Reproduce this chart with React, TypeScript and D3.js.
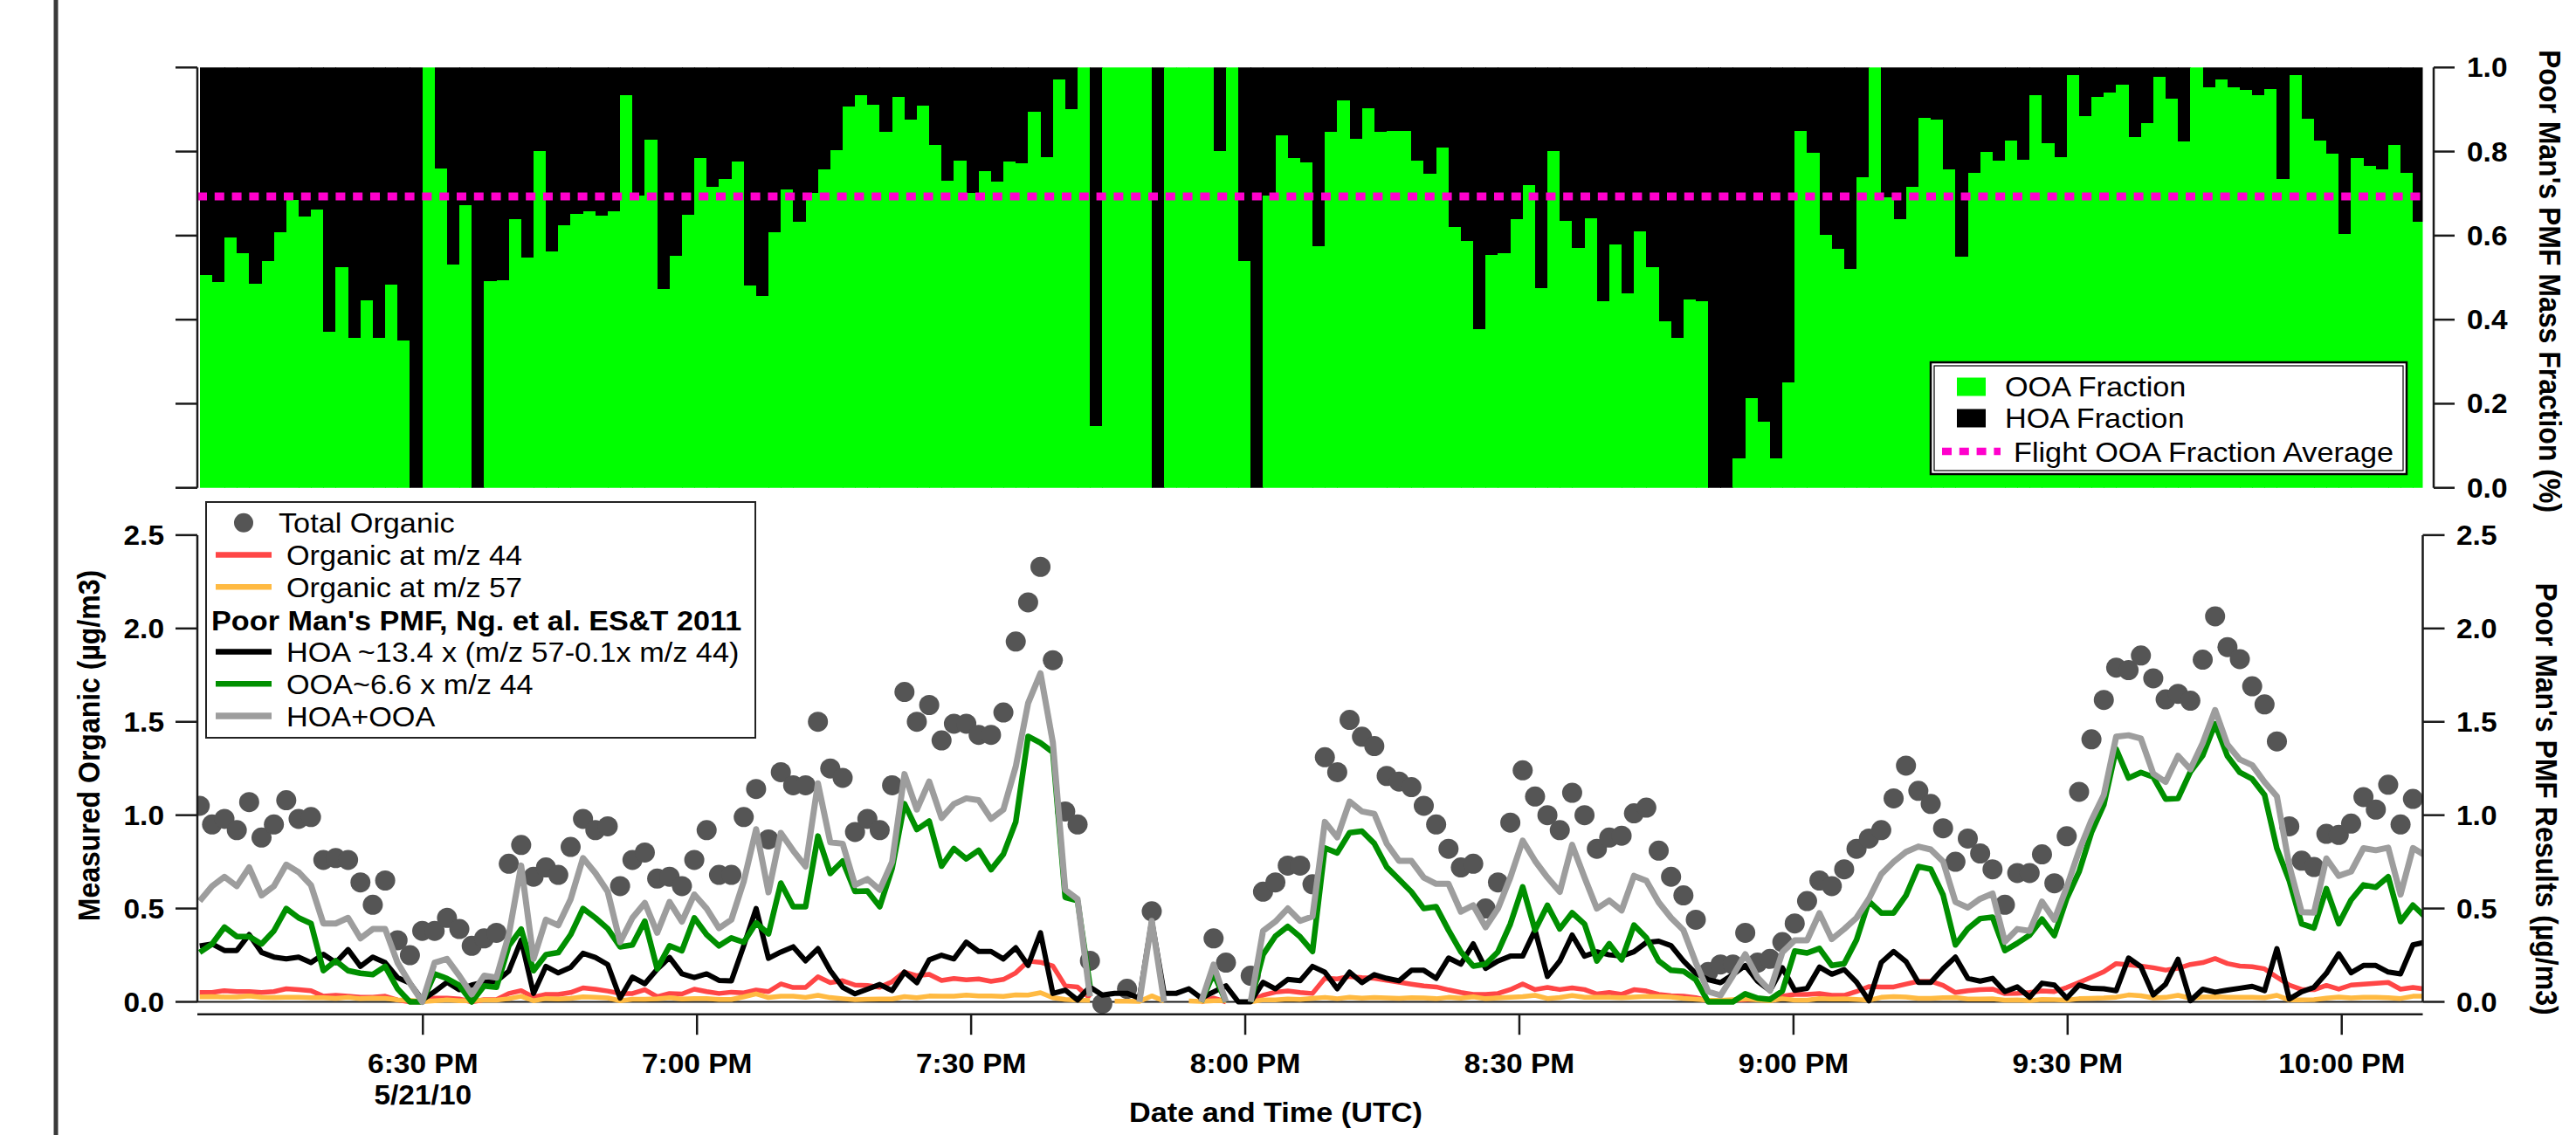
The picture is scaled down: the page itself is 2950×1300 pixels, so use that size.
import React from "react";
import * as d3 from "d3";

// ---------------- data ----------------
const N = 181;
const START = new Date(2010, 4, 21, 18, 5, 34, 500);
const STEP_MS = 81190;
const DOMAIN_START = new Date(2010, 4, 21, 18, 5, 19);
const DOMAIN_END = new Date(2010, 4, 21, 22, 8, 52);

const tickTimes: [number, number][] = [[18, 30], [19, 0], [19, 30], [20, 0], [20, 30], [21, 0], [21, 30], [22, 0]];
const tickLabels = ["6:30 PM", "7:00 PM", "7:30 PM", "8:00 PM", "8:30 PM", "9:00 PM", "9:30 PM", "10:00 PM"];
const dateLabel = "5/21/10";
const fracTicks = [0, 0.2, 0.4, 0.6, 0.8, 1.0];
const orgTicks = [0, 0.5, 1.0, 1.5, 2.0, 2.5];
const ooaFractionAverage = 0.693;

const ooaFraction = [
  0.507, 0.490, 0.596, 0.559, 0.485, 0.540, 0.607, 0.684, 0.646, 0.662,
  0.372, 0.524, 0.356, 0.447, 0.357, 0.484, 0.350, 0.000, 1.000, 0.760,
  0.532, 0.672, 0.000, 0.491, 0.493, 0.640, 0.547, 0.801, 0.563, 0.625,
  0.651, 0.657, 0.647, 0.657, 0.934, 0.696, 0.829, 0.474, 0.551, 0.650,
  0.784, 0.716, 0.735, 0.776, 0.481, 0.456, 0.609, 0.710, 0.632, 0.701,
  0.757, 0.804, 0.907, 0.934, 0.912, 0.846, 0.931, 0.875, 0.910, 0.816,
  0.731, 0.778, 0.701, 0.754, 0.728, 0.776, 0.772, 0.894, 0.787, 0.971,
  0.900, 1.000, 0.147, 1.000, 1.000, 1.000, 1.000, 0.000, 1.000, 1.000,
  1.000, 1.000, 0.801, 1.000, 0.540, 0.000, 0.696, 0.838, 0.784, 0.775,
  0.574, 0.846, 0.922, 0.831, 0.903, 0.846, 0.849, 0.850, 0.778, 0.747,
  0.810, 0.621, 0.587, 0.378, 0.554, 0.559, 0.640, 0.721, 0.475, 0.801,
  0.635, 0.571, 0.641, 0.444, 0.578, 0.463, 0.610, 0.525, 0.397, 0.357,
  0.449, 0.443, 0.000, 0.000, 0.071, 0.213, 0.157, 0.071, 0.250, 0.850,
  0.797, 0.601, 0.569, 0.521, 0.738, 1.000, 0.691, 0.640, 0.716, 0.881,
  0.875, 0.757, 0.549, 0.750, 0.800, 0.778, 0.826, 0.781, 0.934, 0.819,
  0.787, 0.981, 0.885, 0.929, 0.941, 0.960, 0.835, 0.868, 0.978, 0.926,
  0.824, 1.000, 0.953, 0.971, 0.953, 0.946, 0.934, 0.949, 0.735, 0.981,
  0.878, 0.826, 0.794, 0.603, 0.784, 0.765, 0.757, 0.816, 0.750, 0.632,
];

const totalOrganic: (number | null)[] = [
  1.05, 0.95, 0.98, 0.92, 1.07, 0.88, 0.95, 1.08, 0.98, 0.99,
  0.76, 0.77, 0.76, 0.64, 0.52, 0.65, 0.33, 0.25, 0.38, 0.38,
  0.45, 0.39, 0.30, 0.34, 0.37, 0.74, 0.84, 0.67, 0.72, 0.68,
  0.83, 0.98, 0.92, 0.94, 0.62, 0.76, 0.80, 0.66, 0.67, 0.62,
  0.76, 0.92, 0.68, 0.68, 0.99, 1.14, 0.87, 1.23, 1.16, 1.16,
  1.50, 1.25, 1.20, 0.91, 0.98, 0.92, 1.16, 1.66, 1.50, 1.59,
  1.40, 1.49, 1.49, 1.43, 1.43, 1.55, 1.93, 2.14, 2.33, 1.83,
  1.02, 0.95, 0.22, -0.01, null, 0.07, null, 0.485, null, null,
  null, null, 0.34, 0.21, null, 0.14, 0.59, 0.64, 0.73, 0.73,
  0.63, 1.31, 1.23, 1.51, 1.42, 1.37, 1.21, 1.18, 1.15, 1.05,
  0.95, 0.82, 0.72, 0.74, 0.50, 0.64, 0.96, 1.24, 1.10, 1.00,
  0.92, 1.12, 1.00, 0.82, 0.88, 0.89, 1.01, 1.04, 0.81, 0.67,
  0.57, 0.44, 0.16, 0.20, 0.20, 0.37, 0.21, 0.23, 0.32, 0.42,
  0.54, 0.65, 0.62, 0.71, 0.82, 0.875, 0.92, 1.09, 1.265, 1.13,
  1.06, 0.93, 0.75, 0.875, 0.795, 0.71, 0.52, 0.69, 0.69, 0.79,
  0.635, 0.887, 1.125, 1.406, 1.617, 1.79, 1.777, 1.855, 1.733, 1.62,
  1.65, 1.613, 1.833, 2.065, 1.90, 1.836, 1.69, 1.593, 1.395, 0.94,
  0.756, 0.722, 0.90, 0.894, 0.955, 1.097, 1.03, 1.163, 0.95, 1.087,
  null,
];

const hoaPlusOoa: (number | null)[] = [
  0.54, 0.62, 0.67, 0.62, 0.72, 0.57, 0.62, 0.735, 0.695, 0.625,
  0.42, 0.42, 0.45, 0.34, 0.39, 0.39, 0.21, 0.10, 0.0, 0.21,
  0.23, 0.14, 0.04, 0.14, 0.13, 0.36, 0.73, 0.23, 0.44, 0.41,
  0.55, 0.77, 0.69, 0.59, 0.32, 0.45, 0.53, 0.37, 0.535, 0.43,
  0.575, 0.50, 0.395, 0.44, 0.645, 0.925, 0.587, 0.905, 0.81, 0.725,
  1.17, 0.855, 0.847, 0.626, 0.658, 0.60, 0.75, 1.22, 1.03, 1.18,
  0.985, 1.06, 1.09, 1.08, 0.98, 1.03, 1.26, 1.60, 1.76, 1.39,
  0.60, 0.55, 0.03, null, null, null, 0.0, 0.434, 0.0, null,
  null, 0.0, 0.20, 0.0, null, 0.0, 0.38, 0.43, 0.50, 0.434,
  0.457, 0.964, 0.881, 1.073, 1.02, 1.007, 0.848, 0.755, 0.755, 0.666,
  0.632, 0.632, 0.483, 0.517, 0.40, 0.50, 0.666, 0.864, 0.755, 0.666,
  0.589, 0.841, 0.666, 0.50, 0.543, 0.49, 0.675, 0.649, 0.533, 0.45,
  0.384, 0.21, 0.055, 0.035, 0.14, 0.255, 0.13, 0.06, 0.265, 0.33,
  0.33, 0.475, 0.336, 0.39, 0.45, 0.552, 0.684, 0.75, 0.803, 0.832,
  0.816, 0.752, 0.535, 0.505, 0.552, 0.58, 0.322, 0.39, 0.38, 0.537,
  0.44, 0.614, 0.81, 0.973, 1.108, 1.42, 1.428, 1.41, 1.222, 1.178,
  1.318, 1.246, 1.387, 1.563, 1.378, 1.298, 1.268, 1.177, 1.10, 0.73,
  0.481, 0.478, 0.768, 0.675, 0.698, 0.823, 0.812, 0.826, 0.575, 0.824,
  0.784,
];

const ooa: (number | null)[] = [
  0.265, 0.31, 0.40, 0.35, 0.35, 0.31, 0.38, 0.50, 0.45, 0.42,
  0.167, 0.22, 0.167, 0.153, 0.146, 0.19, 0.07, 0.0, 0.0, 0.15,
  0.125, 0.088, 0.0, 0.085, 0.078, 0.30, 0.39, 0.167, 0.253, 0.264,
  0.36, 0.50, 0.45, 0.392, 0.295, 0.305, 0.432, 0.177, 0.30, 0.274,
  0.45, 0.36, 0.30, 0.342, 0.319, 0.423, 0.364, 0.636, 0.51, 0.51,
  0.888, 0.688, 0.754, 0.592, 0.594, 0.51, 0.714, 1.061, 0.923, 0.968,
  0.727, 0.821, 0.766, 0.812, 0.708, 0.791, 0.964, 1.422, 1.387, 1.337,
  0.56, 0.542, 0.086, null, null, null, null, 0.0, null, null,
  null, 0.0, 0.152, 0.0, null, 0.0, 0.253, 0.352, 0.404, 0.348,
  0.27, 0.824, 0.798, 0.906, 0.914, 0.848, 0.722, 0.656, 0.589, 0.5,
  0.51, 0.384, 0.268, 0.192, 0.202, 0.268, 0.417, 0.616, 0.384, 0.517,
  0.391, 0.477, 0.417, 0.219, 0.311, 0.225, 0.411, 0.344, 0.219, 0.169,
  0.164, 0.119, 0.0, 0.0, 0.0, 0.043, 0.02, 0.013, 0.058, 0.272,
  0.262, 0.286, 0.195, 0.205, 0.332, 0.539, 0.476, 0.476, 0.57, 0.725,
  0.711, 0.573, 0.305, 0.392, 0.446, 0.454, 0.275, 0.314, 0.358, 0.443,
  0.355, 0.553, 0.697, 0.907, 1.056, 1.354, 1.199, 1.229, 1.204, 1.086,
  1.089, 1.232, 1.32, 1.489, 1.316, 1.229, 1.194, 1.108, 0.821, 0.65,
  0.418, 0.396, 0.606, 0.419, 0.546, 0.626, 0.614, 0.67, 0.43, 0.518,
  0.455,
];

const hoa: (number | null)[] = [
  0.30, 0.31, 0.275, 0.275, 0.36, 0.265, 0.24, 0.23, 0.24, 0.21,
  0.255, 0.21, 0.28, 0.19, 0.24, 0.21, 0.13, 0.10, 0.01, 0.055,
  0.105, 0.065, 0.09, 0.105, 0.11, 0.165, 0.33, 0.045, 0.19, 0.155,
  0.185, 0.26, 0.238, 0.20, 0.02, 0.133, 0.097, 0.175, 0.238, 0.15,
  0.13, 0.15, 0.115, 0.112, 0.30, 0.50, 0.233, 0.267, 0.295, 0.22,
  0.285, 0.167, 0.078, 0.043, 0.068, 0.093, 0.06, 0.159, 0.103, 0.225,
  0.25, 0.23, 0.32, 0.27, 0.27, 0.23, 0.29, 0.195, 0.37, 0.045,
  0.063, 0.01, 0.08, 0.036, 0.046, 0.046, 0.02, 0.434, 0.046, 0.046,
  0.07, 0.02, 0.053, 0.086, 0.0, 0.0, 0.105, 0.07, 0.12, 0.113,
  0.19, 0.159, 0.07, 0.159, 0.103, 0.146, 0.126, 0.113, 0.169, 0.169,
  0.126, 0.235, 0.202, 0.311, 0.179, 0.219, 0.245, 0.245, 0.384, 0.136,
  0.219, 0.358, 0.245, 0.268, 0.252, 0.245, 0.268, 0.318, 0.325, 0.301,
  0.219, 0.152, 0.119, 0.103, 0.146, 0.195, 0.11, 0.06, 0.183, 0.062,
  0.072, 0.186, 0.148, 0.173, 0.106, 0.006, 0.211, 0.27, 0.216, 0.104,
  0.104, 0.178, 0.24, 0.126, 0.111, 0.126, 0.055, 0.08, 0.025, 0.1,
  0.09, 0.02, 0.09, 0.072, 0.07, 0.06, 0.235, 0.188, 0.037, 0.095,
  0.228, 0.006, 0.068, 0.052, 0.063, 0.073, 0.083, 0.06, 0.285, 0.015,
  0.054, 0.078, 0.153, 0.258, 0.156, 0.195, 0.195, 0.16, 0.15, 0.305,
  0.32,
];

const mz44: (number | null)[] = [
  0.05, 0.05, 0.06, 0.055, 0.055, 0.05, 0.055, 0.07, 0.065, 0.06,
  0.03, 0.035, 0.03, 0.025, 0.025, 0.03, 0.01, 0.0, 0.0, 0.02,
  0.02, 0.015, 0.0, 0.012, 0.012, 0.045, 0.06, 0.025, 0.04, 0.04,
  0.05, 0.075, 0.068, 0.058, 0.045, 0.045, 0.065, 0.027, 0.045, 0.042,
  0.068, 0.055, 0.045, 0.052, 0.048, 0.063, 0.055, 0.096, 0.077, 0.077,
  0.134, 0.103, 0.113, 0.09, 0.088, 0.078, 0.108, 0.16, 0.14, 0.147,
  0.115, 0.125, 0.118, 0.123, 0.11, 0.12, 0.155, 0.218, 0.212, 0.192,
  0.086, 0.079, 0.02, null, null, null, null, 0.0, null, null,
  null, 0.0, 0.02, 0.0, null, 0.0, 0.036, 0.052, 0.058, 0.05,
  0.045, 0.126, 0.123, 0.136, 0.13, 0.126, 0.115, 0.105, 0.095, 0.085,
  0.08, 0.064, 0.05, 0.04, 0.04, 0.045, 0.066, 0.096, 0.066, 0.077,
  0.066, 0.075, 0.066, 0.042, 0.05, 0.04, 0.065, 0.058, 0.04, 0.033,
  0.03, 0.022, 0.006, 0.006, 0.008, 0.012, 0.015, 0.015, 0.03, 0.04,
  0.04, 0.044, 0.035, 0.035, 0.055, 0.082, 0.08, 0.08, 0.095, 0.11,
  0.11, 0.088, 0.05, 0.06, 0.066, 0.068, 0.044, 0.046, 0.05, 0.058,
  0.055, 0.077, 0.104, 0.132, 0.161, 0.205, 0.199, 0.192, 0.183, 0.17,
  0.18, 0.2, 0.21, 0.232, 0.205, 0.192, 0.188, 0.177, 0.132, 0.09,
  0.066, 0.065, 0.088, 0.068, 0.09, 0.095, 0.099, 0.104, 0.068, 0.077,
  0.068,
];

const mz57: (number | null)[] = [
  0.027, 0.028, 0.026, 0.026, 0.032, 0.025, 0.023, 0.024, 0.024, 0.022,
  0.022, 0.019, 0.024, 0.017, 0.02, 0.019, 0.011, 0.008, 0.001, 0.006,
  0.01, 0.006, 0.007, 0.009, 0.009, 0.017, 0.03, 0.006, 0.018, 0.015,
  0.019, 0.027, 0.025, 0.021, 0.006, 0.014, 0.014, 0.016, 0.022, 0.015,
  0.017, 0.017, 0.013, 0.013, 0.027, 0.043, 0.023, 0.03, 0.03, 0.024,
  0.035, 0.023, 0.017, 0.012, 0.014, 0.015, 0.015, 0.028, 0.022, 0.031,
  0.03, 0.03, 0.036, 0.032, 0.031, 0.029, 0.037, 0.036, 0.049, 0.022,
  0.013, 0.009, 0.008, null, 0.004, 0.004, 0.002, 0.032, 0.004, null,
  0.005, 0.002, 0.006, 0.007, null, 0.0, 0.011, 0.01, 0.015, 0.013,
  0.019, 0.024, 0.017, 0.025, 0.02, 0.023, 0.021, 0.019, 0.022, 0.021,
  0.017, 0.024, 0.02, 0.027, 0.017, 0.021, 0.025, 0.028, 0.035, 0.018,
  0.023, 0.034, 0.025, 0.024, 0.024, 0.022, 0.026, 0.029, 0.028, 0.026,
  0.019, 0.014, 0.009, 0.008, 0.012, 0.016, 0.01, 0.006, 0.017, 0.009,
  0.009, 0.018, 0.015, 0.016, 0.013, 0.009, 0.024, 0.028, 0.026, 0.019,
  0.019, 0.022, 0.023, 0.015, 0.015, 0.016, 0.009, 0.011, 0.007, 0.013,
  0.012, 0.009, 0.017, 0.019, 0.021, 0.025, 0.037, 0.033, 0.021, 0.024,
  0.035, 0.02, 0.026, 0.027, 0.025, 0.025, 0.025, 0.022, 0.035, 0.01,
  0.011, 0.012, 0.02, 0.026, 0.021, 0.024, 0.024, 0.022, 0.018, 0.03,
  0.031,
];

// ---------------- style ----------------
const FONT = '"Liberation Sans", Arial, Helvetica, sans-serif';
const SX = 1.07;
const W = 2950, H = 1300;
const PL = 226, PR = 2774.5;
const TOP_T = 77.3, TOP_B = 558.7;
const BOT_T = 612.9, BOT_B = 1147.5;
const XAXIS_Y = 1161.7;
const TOP_RAXIS = 2787;
const AXC = "#1a1a1a";

const C_DOT = "#555555";
const C_RED = "#ff4646";
const C_ORANGE = "#ffba42";
const C_BLACK = "#000000";
const C_GREEN = "#008f00";
const C_GRAY = "#9d9d9d";
const C_OOA = "#00ff00";
const C_MAG = "#ff00cc";

type TP = {
  x: number; y: number; anchor?: "start" | "middle" | "end"; size?: number;
  weight?: string | number; rotate?: number; sx?: number; children: React.ReactNode;
};
function T({ x, y, anchor = "start", size = 32, weight = "normal", rotate = 0, sx = SX, children }: TP) {
  const tf = `translate(${x},${y}) scale(${sx},1)` + (rotate ? ` rotate(${rotate})` : "");
  return (
    <text transform={tf} textAnchor={anchor} fontSize={size} fontWeight={weight} fontFamily={FONT} fill="#000">
      {children}
    </text>
  );
}

export default function App() {
  const x = d3.scaleTime().domain([DOMAIN_START, DOMAIN_END]).range([PL, PR]);
  const yT = d3.scaleLinear().domain([0, 1]).range([TOP_B, TOP_T]);
  const yB = d3.scaleLinear().domain([0, 2.5]).range([BOT_B, BOT_T]);
  const times = d3.range(N).map((i) => new Date(START.getTime() + i * STEP_MS));
  const ticks = tickTimes.map(([h, m]) => new Date(2010, 4, 21, h, m, 0));

  const mkLine = (arr: (number | null)[]) =>
    d3.line<number | null>()
      .defined((d) => d != null)
      .x((_, i) => x(times[i]))
      .y((d) => yB(d as number))(arr) || "";

  const series = [
    { data: mz44, color: C_RED, w: 5.5 },
    { data: mz57, color: C_ORANGE, w: 5.5 },
    { data: hoa, color: C_BLACK, w: 6 },
    { data: ooa, color: C_GREEN, w: 6.5 },
    { data: hoaPlusOoa, color: C_GRAY, w: 7 },
  ];

  const legendRows = [
    { kind: "dot", label: "Total Organic", y: 598.7, tx: 319 },
    { kind: "line", color: C_RED, label: "Organic at m/z 44", y: 635.5, tx: 328 },
    { kind: "line", color: C_ORANGE, label: "Organic at m/z 57", y: 672.3, tx: 328 },
    { kind: "head", label: "Poor Man's PMF, Ng. et al. ES&T 2011", y: 710.1, tx: 242 },
    { kind: "line", color: C_BLACK, label: "HOA ~13.4 x (m/z 57-0.1x m/z 44)", y: 746.4, tx: 328 },
    { kind: "line", color: C_GREEN, label: "OOA~6.6 x m/z 44", y: 783.2, tx: 328 },
    { kind: "line", color: C_GRAY, label: "HOA+OOA", y: 820.0, tx: 328 },
  ];

  return (
    <svg width={W} height={H} viewBox={`0 0 ${W} ${H}`}
      style={{ position: "absolute", left: 0, top: 0, background: "#fff" }}>
      <defs>
        <clipPath id="clipTop"><rect x={PL} y={TOP_T} width={PR - PL} height={TOP_B - TOP_T} /></clipPath>
        <clipPath id="clipBot"><rect x={PL} y={590} width={PR - PL} height={580} /></clipPath>
      </defs>
      <rect x={0} y={0} width={W} height={H} fill="#fff" />

      {/* outer frame line */}
      <line x1={64} x2={64} y1={0} y2={H} stroke="#3a3a3a" strokeWidth={5} />

      {/* ---------- top panel ---------- */}
      <g clipPath="url(#clipTop)" shapeRendering="crispEdges">
        {ooaFraction.map((f, i) => {
          const x0 = x(times[i]);
          const x1 = x(times[i + 1]);
          return (
            <g key={i}>
              <rect x={x0} y={yT(1)} width={x1 - x0 + 0.6} height={yT(f) - yT(1)} fill="#000" />
              <rect x={x0} y={yT(f)} width={x1 - x0 + 0.6} height={yT(0) - yT(f)} fill={C_OOA} />
            </g>
          );
        })}
      </g>
      <line x1={PL} x2={PR} y1={yT(ooaFractionAverage)} y2={yT(ooaFractionAverage)}
        stroke={C_MAG} strokeWidth={9} strokeDasharray="11 8.8" />
      {/* top axes */}
      <line x1={PL} x2={PL} y1={TOP_T} y2={TOP_B} stroke={AXC} strokeWidth={2.5} />
      {fracTicks.map((v) => (
        <line key={"tl" + v} x1={PL - 25} x2={PL} y1={yT(v)} y2={yT(v)} stroke={AXC} strokeWidth={2.5} />
      ))}
      <line x1={TOP_RAXIS} x2={TOP_RAXIS} y1={TOP_T} y2={TOP_B} stroke={AXC} strokeWidth={2.5} />
      {fracTicks.map((v) => (
        <g key={"tr" + v}>
          <line x1={TOP_RAXIS} x2={TOP_RAXIS + 24} y1={yT(v)} y2={yT(v)} stroke={AXC} strokeWidth={2.5} />
          <T x={2825} y={yT(v) + 11} size={31} weight="bold" sx={1.08}>{v.toFixed(1)}</T>
        </g>
      ))}
      <T x={2907.5} y={322} anchor="middle" weight="bold" rotate={90}>Poor Man's PMF Mass Fraction (%)</T>

      {/* top legend */}
      <g>
        <rect x={2211} y={415} width={545} height={128} fill="#fff" stroke="#000" strokeWidth={2.5} />
        <rect x={2215} y={419} width={537} height={120} fill="none" stroke="#000" strokeWidth={1.2} />
        <rect x={2241} y={432.5} width={33} height={21} fill={C_OOA} />
        <T x={2296} y={442 + 11.5}>OOA Fraction</T>
        <rect x={2241} y={468.5} width={33} height={21} fill="#000" />
        <T x={2296} y={478.5 + 11.5}>HOA Fraction</T>
        <line x1={2224} x2={2291} y1={517} y2={517} stroke={C_MAG} strokeWidth={8.5} strokeDasharray="11 8.8" />
        <T x={2306} y={517 + 11.5}>Flight OOA Fraction Average</T>
      </g>

      {/* ---------- bottom panel ---------- */}
      <line x1={PL} x2={PR} y1={BOT_B} y2={BOT_B} stroke={AXC} strokeWidth={2.2} />
      <g clipPath="url(#clipBot)">
        {totalOrganic.map((v, i) =>
          v == null ? null : <circle key={"d" + i} cx={x(times[i])} cy={yB(v)} r={11.5} fill={C_DOT} />
        )}
        {series.map((s, k) => (
          <path key={"s" + k} d={mkLine(s.data)} fill="none" stroke={s.color} strokeWidth={s.w}
            strokeLinejoin="round" strokeLinecap="butt" />
        ))}
      </g>

      {/* bottom left axis */}
      <line x1={PL} x2={PL} y1={BOT_T} y2={BOT_B} stroke={AXC} strokeWidth={2.5} />
      {orgTicks.map((v) => (
        <g key={"bl" + v}>
          <line x1={PL - 25} x2={PL} y1={yB(v)} y2={yB(v)} stroke={AXC} strokeWidth={2.5} />
          <T x={188} y={yB(v) + 11} anchor="end" size={31} weight="bold" sx={1.08}>{v.toFixed(1)}</T>
        </g>
      ))}
      {/* bottom right axis */}
      <line x1={PR} x2={PR} y1={BOT_T} y2={BOT_B} stroke={AXC} strokeWidth={2.5} />
      {orgTicks.map((v) => (
        <g key={"br" + v}>
          <line x1={PR} x2={PR + 25} y1={yB(v)} y2={yB(v)} stroke={AXC} strokeWidth={2.5} />
          <T x={2813} y={yB(v) + 11} size={31} weight="bold" sx={1.08}>{v.toFixed(1)}</T>
        </g>
      ))}
      <T x={114} y={854} anchor="middle" weight="bold" rotate={-90}>Measured Organic (µg/m3)</T>
      <T x={2903.5} y={915} anchor="middle" weight="bold" rotate={90}>Poor Man's PMF Results (µg/m3)</T>

      {/* time axis */}
      <line x1={PL} x2={PR} y1={XAXIS_Y} y2={XAXIS_Y} stroke={AXC} strokeWidth={2.5} />
      {ticks.map((t, k) => (
        <g key={"xt" + k}>
          <line x1={x(t)} x2={x(t)} y1={XAXIS_Y} y2={XAXIS_Y + 23.5} stroke={AXC} strokeWidth={2.5} />
          <T x={x(t)} y={1229} anchor="middle" size={31} weight="bold" sx={1.08}>{tickLabels[k]}</T>
        </g>
      ))}
      <T x={x(ticks[0])} y={1264.6} anchor="middle" size={31} weight="bold" sx={1.08}>{dateLabel}</T>
      <T x={1461} y={1284.5} anchor="middle" weight="bold">Date and Time (UTC)</T>

      {/* bottom legend */}
      <g>
        <rect x={236} y={575} width={629} height={270} fill="#fff" stroke="#222" strokeWidth={2} />
        {legendRows.map((r, k) => (
          <g key={"lg" + k}>
            {r.kind === "dot" && <circle cx={279} cy={r.y} r={11} fill={C_DOT} />}
            {r.kind === "line" && (
              <line x1={247} x2={311} y1={r.y} y2={r.y} stroke={r.color} strokeWidth={r.color === C_GRAY ? 7.5 : 6.5} />
            )}
            <T x={r.tx} y={r.y + 11.5} weight={r.kind === "head" ? "bold" : "normal"}>{r.label}</T>
          </g>
        ))}
      </g>
    </svg>
  );
}
